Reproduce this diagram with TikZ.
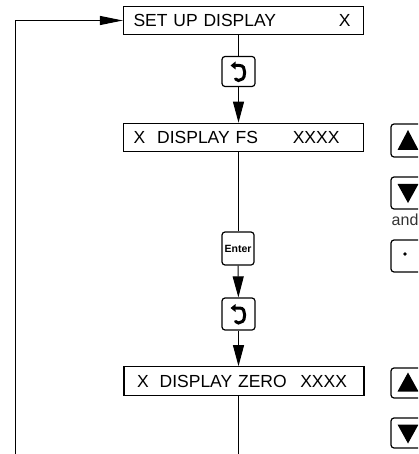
\documentclass[tikz,border=0pt]{standalone}
\usepackage{fontspec}
\setmainfont{Liberation Sans}
\usetikzlibrary{arrows.meta}

\begin{document}
\begin{tikzpicture}[x=1pt, y=-1pt,
	display/.style={rectangle, draw=black, line width=1.2pt, minimum width=240pt, minimum height=28.5pt, inner xsep=0pt, inner ysep=0pt, text width=240pt, align=left, font=\fontsize{17.5}{17.5}\selectfont},
	keybox/.style={rectangle, draw=black, line width=1.2pt, rounded corners=3pt, minimum width=33pt, minimum height=31pt, inner sep=0pt},
	sidekey/.style={keybox, minimum width=38pt},
	flow/.style={-{Triangle[length=21pt, width=11pt]}, line width=1pt},
	feed/.style={-{Triangle[length=23pt, width=9pt]}, line width=1pt},
	hook/.style={line width=3pt, line cap=round},
	]
	\useasboundingbox (0,0) rectangle (418,454);
	\clip (0,0) rectangle (418,454);
	%Displays
	\node[display] (setup) at (243.5,20.5) {\hspace*{10pt}SET UP DISPLAY\hfill X\hspace*{13pt}\mbox{}};
	%
	\node[display] (fs) at (243.5,137.5) {\hspace*{10pt}X\hspace{12pt}DISPLAY FS\hfill XXXX\hspace*{24pt}\mbox{}};
	%
	\node[display] (zero) at (244,381) {\hspace*{13pt}X\hspace{11pt}DISPLAY ZERO\hfill XXXX\hspace*{17pt}\mbox{}};
	%
	%Keys on the main line
	\node[keybox, minimum height=30pt] (ret1) at (238.5,71.5) {};
	%
	\node[keybox, minimum width=32pt, minimum height=33pt, font=\fontsize{10.5}{10.5}\selectfont\bfseries] (enter) at (238,248.5) {Enter};
	%
	\node[keybox, minimum height=32pt] (ret2) at (238.5,314) {};
	%
	%Keys on the right
	\node[sidekey, minimum height=33pt] (up1) at (410,140.5) {};
	\node[sidekey, minimum height=32pt] (down1) at (410,193) {};
	\node[anchor=base west, inner sep=0pt, text=black!80, font=\fontsize{16}{16}\selectfont] (andtext) at (391.5,225.5) {and};
	\node[sidekey, minimum height=32pt] (dot) at (410,256) {};
	\node[sidekey, minimum height=30pt] (up2) at (410,383) {};
	\node[sidekey, minimum height=30pt] (down2) at (410,433) {};
	%
	\coordinate (loopfoot) at (15,454);
	\coordinate (stemfoot) at (238.5,454);
	
	%Glyphs
	\foreach \k in {ret1, ret2}{
		\begin{scope}[shift={(\k.center)}]
			\fill (-8,-6) -- (-3,-10) -- (-3,-2) -- cycle;
			\draw[hook] (-3,-6) -- (1,-6) .. controls (5,-6) and (6,-3) .. (6,0) -- (6,2) .. controls (6,7) and (3,9) .. (0,9) -- (-3,7.5);
		\end{scope}
	}
	\fill ([shift={(-12.5,9.5)}]up1.center) -- ++(21,0) -- ++(-10.5,-20) -- cycle;
	\fill ([shift={(-12.5,-9)}]down1.center) -- ++(21,0) -- ++(-10.5,19) -- cycle;
	\fill ([shift={(-12.5,8.5)}]up2.center) -- ++(21,0) -- ++(-10.5,-19) -- cycle;
	\fill ([shift={(-12.5,-8.5)}]down2.center) -- ++(21,0) -- ++(-10.5,19) -- cycle;
	\fill ([shift={(-5,-2)}]dot.center) circle (1.9pt);
	
	%Connectors
	\draw[feed] (loopfoot) |- (setup.west);
	\draw[line width=1pt] (ret1 |- setup.south) -- (ret1);
	\draw[flow] (ret1) -- (ret1 |- fs.north);
	\draw[line width=1pt] (enter |- fs.south) -- (enter);
	\draw[flow] (enter) -- (ret2);
	\draw[flow] (ret2) -- (ret2 |- zero.north);
	\draw[line width=1pt] (stemfoot |- zero.south) -- (stemfoot);
\end{tikzpicture}
\end{document}
